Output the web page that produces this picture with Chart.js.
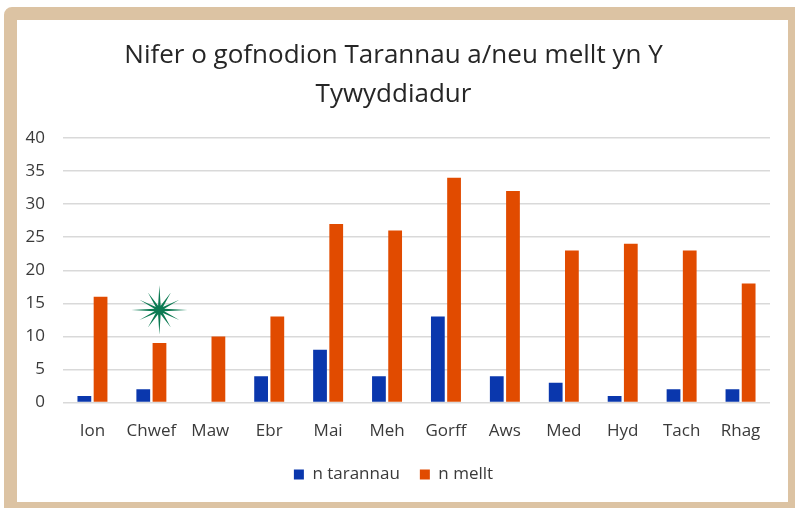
<!DOCTYPE html>
<html>
<head>
<meta charset="utf-8">
<script src="https://cdn.jsdelivr.net/npm/chart.js@4.4.1/dist/chart.umd.min.js"></script>
<style>
  html, body { margin: 0; padding: 0; background: #ffffff; overflow: hidden; }
  body { width: 795px; height: 508px; position: relative; }
  #frame {
    position: absolute; left: 4px; top: 7px; width: 771px; height: 482px;
    border-style: solid; border-color: #dcc3a3;
    border-width: 13px 10px 10px 13px; border-top-left-radius: 8px;
    background: #ffffff;
  }
  #wrap { position: relative; width: 771px; height: 482px; }
</style>
</head>
<body>
<div id="frame"><div id="wrap"><canvas id="chart"></canvas></div></div>
<script>
// Chart data
const months = ['Ion', 'Chwef', 'Maw', 'Ebr', 'Mai', 'Meh', 'Gorff', 'Aws', 'Med', 'Hyd', 'Tach', 'Rhag'];
const taranauCounts = [1, 2, 0, 4, 8, 4, 13, 4, 3, 1, 2, 2];
const melltCounts = [16, 9, 10, 13, 27, 26, 34, 32, 23, 24, 23, 18];
const seriesLabels = ['n tarannau', 'n mellt'];
const titleLines = ['Nifer o gofnodion Tarannau a/neu mellt yn Y', 'Tywyddiadur'];

const FONT = "'Open Sans', sans-serif";
const TEXT = '#3a3a3a';

// decorative green star drawn near the Chwef bars
const starPlugin = {
    id: 'star',
    afterDatasetsDraw(chart) {
        const { ctx, scales } = chart;
        const cx = scales.x.getPixelForValue(1) + 8;
        const cy = scales.y.getPixelForValue(14);
        const points = 12;
        ctx.save();
        ctx.beginPath();
        for (let i = 0; i < points * 2; i++) {
            const ang = (Math.PI / points) * i - Math.PI / 2;
            const long = i % 2 === 0;
            const r = long ? ((i / 2) % 3 === 0 ? 28 : 23) : 5;
            const px = cx + Math.cos(ang) * r;
            const py = cy + Math.sin(ang) * r * 0.88;
            if (i === 0) ctx.moveTo(px, py); else ctx.lineTo(px, py);
        }
        ctx.closePath();
        ctx.fillStyle = '#0b7a52';
        ctx.fill();
        ctx.restore();
    }
};

const ctx = document.getElementById('chart').getContext('2d');

new Chart(ctx, {
    type: 'bar',
    data: {
        labels: months,
        datasets: [
            {
                label: seriesLabels[0],
                data: taranauCounts,
                backgroundColor: '#0a37ad',
            },
            {
                label: seriesLabels[1],
                data: melltCounts,
                backgroundColor: '#e14b00',
            },
        ]
    },
    options: {
        responsive: true,
        maintainAspectRatio: false,
        animation: false,
        categoryPercentage: 0.55,
        barPercentage: 0.85,
        layout: { padding: { left: 0, right: 18, top: 0, bottom: 9 } },
        plugins: {
            title: {
                display: true,
                text: titleLines,
                color: '#262626',
                font: { family: FONT, size: 26, weight: 'normal', lineHeight: 1.5 },
                padding: { top: 16, bottom: 24 },
            },
            legend: {
                position: 'bottom',
                labels: {
                    color: TEXT,
                    font: { family: FONT, size: 17 },
                    boxWidth: 10,
                    boxHeight: 10,
                    padding: 20,
                },
            },
            tooltip: { enabled: false },
        },
        scales: {
            x: {
                afterFit(scale) { scale.height -= 5; },
                grid: { display: false },
                border: { display: false },
                ticks: { color: TEXT, font: { family: FONT, size: 17 }, padding: 10 },
            },
            y: {
                min: 0,
                max: 40,
                afterFit(scale) { scale.width = 46; },
                ticks: { stepSize: 5, color: TEXT, font: { family: FONT, size: 17 }, padding: 18 },
                grid: { color: '#d9d9d9', lineWidth: 1.5, drawTicks: false },
                border: { display: false },
            },
        },
    },
    plugins: [starPlugin],
});
</script>
</body>
</html>
